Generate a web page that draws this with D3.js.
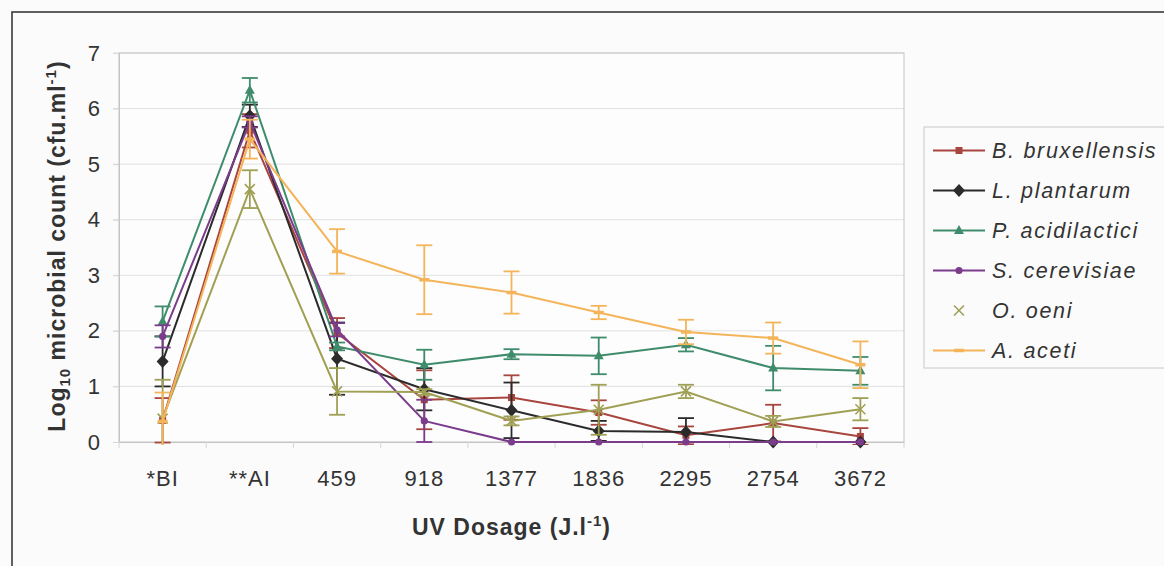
<!DOCTYPE html>
<html>
<head>
<meta charset="utf-8">
<script src="https://cdn.jsdelivr.net/npm/d3@7"></script>
<style>
  html, body { margin: 0; padding: 0; background: #fbfbfb; }
  svg { display: block; font-family: "Liberation Sans", Arial, sans-serif; }
</style>
</head>
<body>
<svg id="chart" width="1164" height="566"></svg>
<script>
// UV dosage steps (BI = before inoculation, AI = after inoculation)
const categories = ["*BI", "**AI", "459", "918", "1377", "1836", "2295", "2754", "3672"];

// Log10 counts (mean) and standard deviations per organism
const bBruxellensis    = [0.39, 5.60, 1.96, 0.76, 0.80, 0.53, 0.12, 0.34, 0.10];
const bBruxellensisErr = [0.40, 0.30, 0.27, 0.53, 0.40, 0.22, 0.16, 0.33, 0.15];

const lPlantarum    = [1.45, 5.87, 1.50, 0.95, 0.57, 0.20, 0.18, 0.00, 0.00];
const lPlantarumErr = [0.45, 0.20, 0.65, 0.38, 0.50, 0.18, 0.25, 0.00, 0.00];

const pAcidilactici    = [2.17, 6.33, 1.72, 1.39, 1.58, 1.55, 1.75, 1.33, 1.28];
const pAcidilacticiErr = [0.27, 0.22, 0.07, 0.27, 0.09, 0.33, 0.12, 0.40, 0.25];

const sCerevisiae    = [1.90, 5.76, 2.02, 0.38, 0.00, 0.00, 0.00, 0.00, 0.00];
const sCerevisiaeErr = [0.20, 0.10, 0.12, 0.38, 0.00, 0.00, 0.00, 0.00, 0.00];

const oOeni    = [0.42, 4.55, 0.91, 0.90, 0.38, 0.58, 0.91, 0.37, 0.59];
const oOeniErr = [0.70, 0.34, 0.42, 0.05, 0.08, 0.45, 0.12, 0.10, 0.20];

const aAceti    = [0.37, 5.45, 3.43, 2.92, 2.69, 2.33, 1.98, 1.87, 1.39];
const aAcetiErr = [0.52, 0.35, 0.40, 0.62, 0.38, 0.12, 0.22, 0.28, 0.42];

const yTicks = [0, 1, 2, 3, 4, 5, 6, 7];

const series = [
  { name: "B. bruxellensis", values: bBruxellensis, err: bBruxellensisErr, color: "#a8453f", marker: "square",   legendLine: true },
  { name: "L. plantarum",    values: lPlantarum,    err: lPlantarumErr,    color: "#2b2b2b", marker: "diamond",  legendLine: true },
  { name: "P. acidilactici", values: pAcidilactici, err: pAcidilacticiErr, color: "#3f8c6c", marker: "triangle", legendLine: true },
  { name: "S. cerevisiae",   values: sCerevisiae,   err: sCerevisiaeErr,   color: "#7b3c8c", marker: "circle",   legendLine: true },
  { name: "O. oeni",         values: oOeni,         err: oOeniErr,         color: "#a0a055", marker: "cross",    legendLine: false },
  { name: "A. aceti",        values: aAceti,        err: aAcetiErr,        color: "#f4b45a", marker: "dash",     legendLine: true }
];

const svg = d3.select("#chart");

// Plot area bounds
const plot = { left: 119, right: 904, top: 53, bottom: 442 };

const x = d3.scaleBand().domain(categories).range([plot.left, plot.right]);
const cx = c => x(c) + x.bandwidth() / 2;
const y = d3.scaleLinear().domain([0, 7]).range([plot.bottom, plot.top]);

// Outer chart frame
svg.append("rect")
  .attr("x", 12).attr("y", 12).attr("width", 1180).attr("height", 580)
  .attr("fill", "#fbfbfb").attr("stroke", "#3a3a3a").attr("stroke-width", 1.6);

// Plot background
svg.append("rect")
  .attr("x", plot.left).attr("y", plot.top)
  .attr("width", plot.right - plot.left).attr("height", plot.bottom - plot.top)
  .attr("fill", "#fdfdfd");

// Horizontal gridlines
svg.append("g").selectAll("line").data(yTicks.filter(d => d > 0)).join("line")
  .attr("x1", plot.left - 6).attr("x2", plot.right)
  .attr("y1", d => y(d)).attr("y2", d => y(d))
  .attr("stroke", "#e1e1e1").attr("stroke-width", 1);

// Plot border
svg.append("rect")
  .attr("x", plot.left).attr("y", plot.top)
  .attr("width", plot.right - plot.left).attr("height", plot.bottom - plot.top)
  .attr("fill", "none").attr("stroke", "#c4c4c4").attr("stroke-width", 1);

// Y axis
const yAxis = svg.append("g")
  .attr("transform", `translate(${plot.left},0)`)
  .call(d3.axisLeft(y).tickValues(yTicks).tickFormat(d3.format("d")).tickSize(6).tickPadding(13));
yAxis.select(".domain").attr("stroke", "#c4c4c4");
yAxis.selectAll(".tick line").attr("stroke", "#d6d6d6");
yAxis.selectAll(".tick text")
  .attr("font-size", 22).attr("fill", "#333").attr("font-family", "Liberation Sans, Arial, sans-serif");

// X axis
const xAxis = svg.append("g")
  .attr("transform", `translate(0,${plot.bottom})`)
  .call(d3.axisBottom(x).tickSize(0).tickPadding(28));
xAxis.select(".domain").attr("stroke", "#c4c4c4");
xAxis.selectAll(".tick text")
  .attr("font-size", 22).attr("fill", "#333").attr("letter-spacing", 1)
  .attr("font-family", "Liberation Sans, Arial, sans-serif");

// Category boundary tick marks
const boundaries = categories.map(c => x(c)).concat([x(categories[categories.length - 1]) + x.bandwidth()]);
svg.append("g").selectAll("line").data(boundaries).join("line")
  .attr("x1", d => d).attr("x2", d => d)
  .attr("y1", plot.bottom).attr("y2", plot.bottom + 6)
  .attr("stroke", "#d6d6d6");

// Clip for error bars (keeps whiskers inside the plot area)
svg.append("clipPath").attr("id", "plotClip")
  .append("rect")
  .attr("x", plot.left - 20).attr("y", plot.top - 10)
  .attr("width", plot.right - plot.left + 40).attr("height", plot.bottom - plot.top + 13);

// Marker drawing
function drawMarker(g, type, color, px, py) {
  switch (type) {
    case "square":
      g.append("rect").attr("x", px - 3.5).attr("y", py - 3.5).attr("width", 7).attr("height", 7).attr("fill", color);
      break;
    case "diamond":
      g.append("path").attr("d", `M${px},${py - 6.5}L${px + 6},${py}L${px},${py + 6.5}L${px - 6},${py}Z`).attr("fill", color);
      break;
    case "triangle":
      g.append("path").attr("d", `M${px},${py - 5.5}L${px + 5},${py + 3.5}L${px - 5},${py + 3.5}Z`).attr("fill", color);
      break;
    case "circle":
      g.append("circle").attr("cx", px).attr("cy", py).attr("r", 3.6).attr("fill", color);
      break;
    case "cross":
      g.append("path").attr("d", `M${px - 5},${py - 5}L${px + 5},${py + 5}M${px - 5},${py + 5}L${px + 5},${py - 5}`)
        .attr("stroke", color).attr("stroke-width", 1.6).attr("fill", "none");
      break;
    case "dash":
      g.append("path").attr("d", `M${px - 5},${py}L${px + 5},${py}`)
        .attr("stroke", color).attr("stroke-width", 3.5).attr("fill", "none");
      break;
  }
}

const line = d3.line().x(d => cx(d.c)).y(d => y(d.v));

series.forEach(s => {
  const pts = categories.map((c, i) => ({ c, v: s.values[i], e: s.err[i] }));
  const g = svg.append("g");

  // error bars
  const eb = g.append("g").attr("clip-path", "url(#plotClip)")
    .attr("stroke", s.color).attr("stroke-width", 1.8).attr("fill", "none");
  pts.filter(p => p.e > 0).forEach(p => {
    const px = cx(p.c);
    eb.append("line").attr("x1", px).attr("x2", px).attr("y1", y(p.v - p.e)).attr("y2", y(p.v + p.e));
    eb.append("line").attr("x1", px - 8).attr("x2", px + 8).attr("y1", y(p.v - p.e)).attr("y2", y(p.v - p.e));
    eb.append("line").attr("x1", px - 8).attr("x2", px + 8).attr("y1", y(p.v + p.e)).attr("y2", y(p.v + p.e));
  });

  // connecting line
  g.append("path").datum(pts).attr("d", line)
    .attr("fill", "none").attr("stroke", s.color).attr("stroke-width", 2);

  // markers
  pts.forEach(p => drawMarker(g, s.marker, s.color, cx(p.c), y(p.v)));
});

// Legend
const legend = svg.append("g");
legend.append("rect")
  .attr("x", 924).attr("y", 127).attr("width", 260).attr("height", 241)
  .attr("fill", "none").attr("stroke", "#c8c8c8").attr("stroke-width", 1);

series.forEach((s, i) => {
  const ly = 150.5 + i * 40;
  const lg = legend.append("g");
  if (s.legendLine) {
    lg.append("line").attr("x1", 933).attr("x2", 985).attr("y1", ly).attr("y2", ly)
      .attr("stroke", s.color).attr("stroke-width", 2);
  }
  drawMarker(lg, s.marker, s.color, 959, ly);
  lg.append("text")
    .attr("x", 992).attr("y", ly).attr("dy", "0.36em")
    .attr("font-size", 21.5).attr("font-style", "italic").attr("fill", "#333")
    .attr("letter-spacing", 1.7)
    .text(s.name);
});

// Axis titles
const yTitle = svg.append("text")
  .attr("transform", `translate(65,246) rotate(-90)`)
  .attr("text-anchor", "middle")
  .attr("font-size", 23).attr("font-weight", "bold").attr("fill", "#333")
  .attr("letter-spacing", 1);
yTitle.append("tspan").text("Log");
yTitle.append("tspan").attr("font-size", 15).attr("dy", 5).text("10");
yTitle.append("tspan").attr("dy", -5).text(" microbial count (cfu.ml");
yTitle.append("tspan").attr("font-size", 15).attr("dy", -9).text("-1");
yTitle.append("tspan").attr("dy", 9).text(")");

const xTitle = svg.append("text")
  .attr("x", (plot.left + plot.right) / 2).attr("y", 535)
  .attr("text-anchor", "middle")
  .attr("font-size", 23).attr("font-weight", "bold").attr("fill", "#333")
  .attr("letter-spacing", 1);
xTitle.append("tspan").text("UV Dosage (J.l");
xTitle.append("tspan").attr("font-size", 15).attr("dy", -9).text("-1");
xTitle.append("tspan").attr("dy", 9).text(")");
</script>
</body>
</html>
